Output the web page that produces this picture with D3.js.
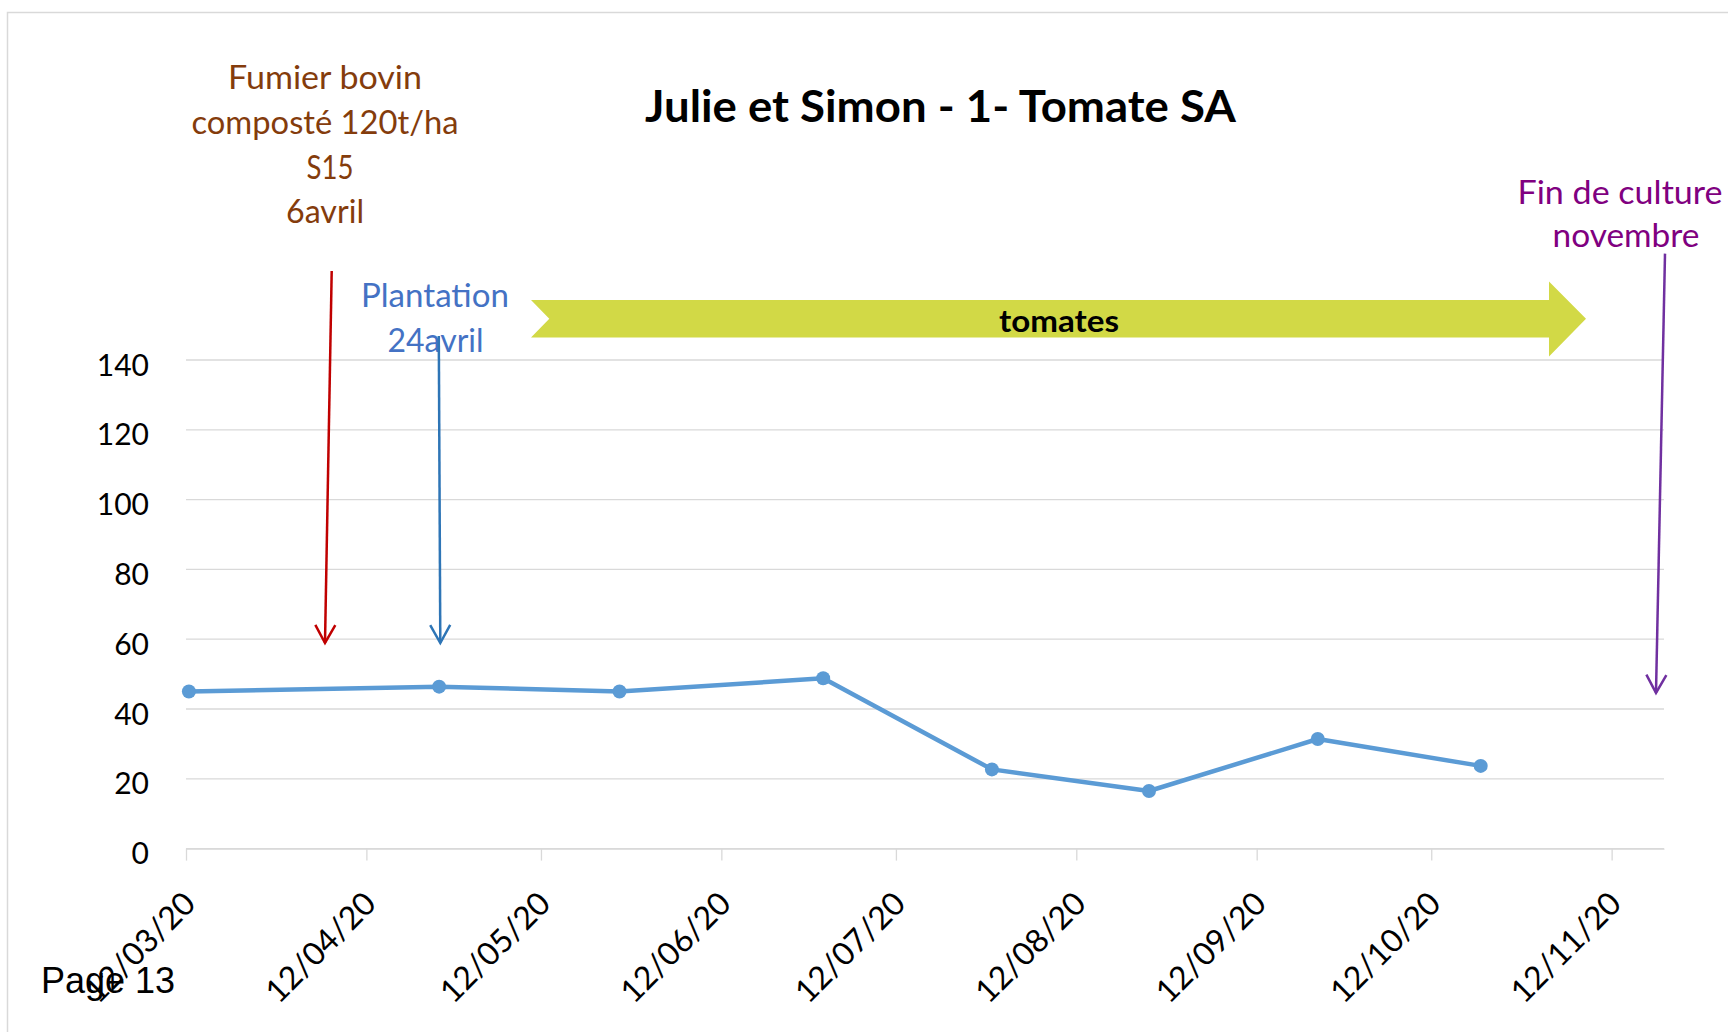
<!DOCTYPE html>
<html>
<head>
<meta charset="utf-8">
<title>Julie et Simon - 1- Tomate SA</title>
<script src="https://cdn.jsdelivr.net/npm/d3@7"></script>
<style>
    body { margin: 0; background: #fff; }
    svg { display: block; }
</style>
</head>
<body>
<div id="chart"></div>
<script>
// data
const sampleDates = ["2020-03-12", "2020-04-24", "2020-05-25", "2020-06-29",
                     "2020-07-28", "2020-08-24", "2020-09-22", "2020-10-20"];
const sampleValues = [45, 46.4, 45, 48.8, 22.7, 16.5, 31.4, 23.7];

// axis ticks
const tickDates = ["2020-03-12", "2020-04-12", "2020-05-12", "2020-06-12", "2020-07-12",
                   "2020-08-12", "2020-09-12", "2020-10-12", "2020-11-12"];
const yTicks = [0, 20, 40, 60, 80, 100, 120, 140];

// texts
const chartTitle = "Julie et Simon - 1- Tomate SA";
const fumierLines = ["Fumier bovin", "composté 120t/ha", "S15", "6avril"];
const plantationLines = ["Plantation", "24avril"];
const finLines = ["Fin de culture", "novembre"];
const cropLabel = "tomates";
const pageLabel = "Page 13";

window.onload = function() {
    const width = 1728;
    const height = 1032;
    const gridColor = "#d9d9d9";
    const lineColor = "#5b9bd5";
    const noteFont = "Lato, 'Open Sans', sans-serif";

    const parseDay = d3.utcParse("%Y-%m-%d");

    // date axis: 12/03/20 -> 21/11/20
    const x = d3.scaleUtc()
        .domain([parseDay("2020-03-12"), parseDay("2020-11-21")])
        .range([186, 1664]);

    const y = d3.scaleLinear()
        .domain([0, 140])
        .range([848.6, 360]);

    // excel puts each point in the middle of its day
    const points = sampleDates.map((s, i) => ({
        date: d3.utcHour.offset(parseDay(s), 12),
        value: sampleValues[i]
    }));

    const svg = d3.select("#chart")
        .append("svg")
        .attr("width", width)
        .attr("height", height);

    svg.append("rect")
        .attr("width", width)
        .attr("height", height)
        .attr("fill", "#fff");

    // chart frame (runs off the page to the right and bottom)
    svg.append("rect")
        .attr("x", 7.5)
        .attr("y", 12.5)
        .attr("width", 1800)
        .attr("height", 1100)
        .attr("fill", "none")
        .attr("stroke", gridColor)
        .attr("stroke-width", 1.5);

    // horizontal gridlines
    svg.append("g")
        .selectAll("line")
        .data(yTicks)
        .enter()
        .append("line")
        .attr("x1", x.range()[0])
        .attr("x2", x.range()[1])
        .attr("y1", d => y(d))
        .attr("y2", d => y(d))
        .attr("stroke", gridColor)
        .attr("stroke-width", 1.3);

    // Y axis labels only
    const gy = svg.append("g")
        .attr("transform", `translate(${x.range()[0]},0)`)
        .call(d3.axisLeft(y).tickValues(yTicks).tickSize(0).tickPadding(37));
    gy.select(".domain").remove();
    gy.selectAll(".tick text")
        .attr("dy", "0.5em")
        .attr("fill", "#000")
        .style("font-family", noteFont)
        .style("font-size", "30px");

    // X axis with rotated date labels
    const xAxis = d3.axisBottom(x)
        .tickValues(tickDates.map(parseDay))
        .tickFormat(d3.utcFormat("%d/%m/%y"))
        .tickSize(12)
        .tickSizeOuter(0);
    const gx = svg.append("g")
        .attr("transform", `translate(0,${y(0)})`)
        .call(xAxis);
    gx.select(".domain").attr("stroke", gridColor).attr("stroke-width", 1.3);
    gx.selectAll(".tick line").attr("stroke", gridColor).attr("stroke-width", 1.3);
    gx.selectAll(".tick text")
        .attr("x", 0)
        .attr("y", 0)
        .attr("dy", 0)
        .attr("transform", "translate(11,57) rotate(-45)")
        .attr("text-anchor", "end")
        .attr("fill", "#000")
        .style("font-family", noteFont)
        .style("font-size", "32px");

    // the series
    const line = d3.line()
        .x(d => x(d.date))
        .y(d => y(d.value));

    svg.append("path")
        .datum(points)
        .attr("d", line)
        .attr("fill", "none")
        .attr("stroke", lineColor)
        .attr("stroke-width", 4.5)
        .attr("stroke-linejoin", "round");

    svg.selectAll("circle.pt")
        .data(points)
        .enter()
        .append("circle")
        .attr("class", "pt")
        .attr("cx", d => x(d.date))
        .attr("cy", d => y(d.value))
        .attr("r", 7)
        .attr("fill", lineColor);

    // title
    svg.append("text")
        .attr("x", 940.5)
        .attr("y", 121.7)
        .attr("text-anchor", "middle")
        .attr("textLength", 591)
        .attr("lengthAdjust", "spacingAndGlyphs")
        .style("font-family", noteFont)
        .style("font-weight", "bold")
        .style("font-size", "44px")
        .text(chartTitle);

    // green "tomates" arrow
    svg.append("path")
        .attr("d", "M531,300 L1549,300 L1549,281.4 L1586,318.8 L1549,356.4 L1549,337.5 L531,337.5 L549.3,318.8 Z")
        .attr("fill", "#d2d946");

    svg.append("text")
        .attr("x", 1059)
        .attr("y", 331.7)
        .attr("text-anchor", "middle")
        .attr("textLength", 120)
        .attr("lengthAdjust", "spacingAndGlyphs")
        .style("font-family", noteFont)
        .style("font-weight", "bold")
        .style("font-size", "30px")
        .text(cropLabel);

    // annotation texts
    const notes = [
        { lines: fumierLines, color: "#843c0c", xs: [325, 325, 330, 325], y0: 89.3, step: 44.6, widths: [194, 267, 47, 78] },
        { lines: plantationLines, color: "#4472c4", xs: [435, 435.5], y0: 306.7, step: 45, widths: [148, 96] },
        { lines: finLines, color: "#800080", xs: [1620, 1626], y0: 203.6, step: 43.4, widths: [205, 147] }
    ];

    notes.forEach(n => {
        svg.append("g")
            .selectAll("text")
            .data(n.lines)
            .enter()
            .append("text")
            .attr("x", (d, i) => n.xs[i])
            .attr("y", (d, i) => n.y0 + i * n.step)
            .attr("text-anchor", "middle")
            .attr("textLength", (d, i) => n.widths[i])
            .attr("lengthAdjust", "spacingAndGlyphs")
            .attr("fill", n.color)
            .style("font-family", noteFont)
            .style("font-size", "32px")
            .text(d => d);
    });

    // hand drawn arrows with open heads
    function drawArrow(x1, y1, x2, y2, color) {
        svg.append("line")
            .attr("x1", x1).attr("y1", y1)
            .attr("x2", x2).attr("y2", y2)
            .attr("stroke", color)
            .attr("stroke-width", 2.5);
        const len = Math.hypot(x2 - x1, y2 - y1);
        const ux = (x2 - x1) / len, uy = (y2 - y1) / len;
        const nx = -uy, ny = ux;
        const back = 18, half = 10;
        const pts = [
            [x2 - back * ux + half * nx, y2 - back * uy + half * ny],
            [x2, y2],
            [x2 - back * ux - half * nx, y2 - back * uy - half * ny]
        ];
        svg.append("polyline")
            .attr("points", pts.join(" "))
            .attr("fill", "none")
            .attr("stroke", color)
            .attr("stroke-width", 2.5);
    }

    drawArrow(331.7, 271, 325, 643, "#c00000");
    drawArrow(438.8, 336, 440.3, 643, "#2e75b6");
    drawArrow(1665, 253.6, 1656, 692.9, "#7030a0");

    // page footer
    svg.append("text")
        .attr("x", 41)
        .attr("y", 993)
        .style("font-family", "'Liberation Sans', Arial, sans-serif")
        .style("font-size", "36px")
        .attr("fill", "#000")
        .text(pageLabel);
};
</script>
</body>
</html>
